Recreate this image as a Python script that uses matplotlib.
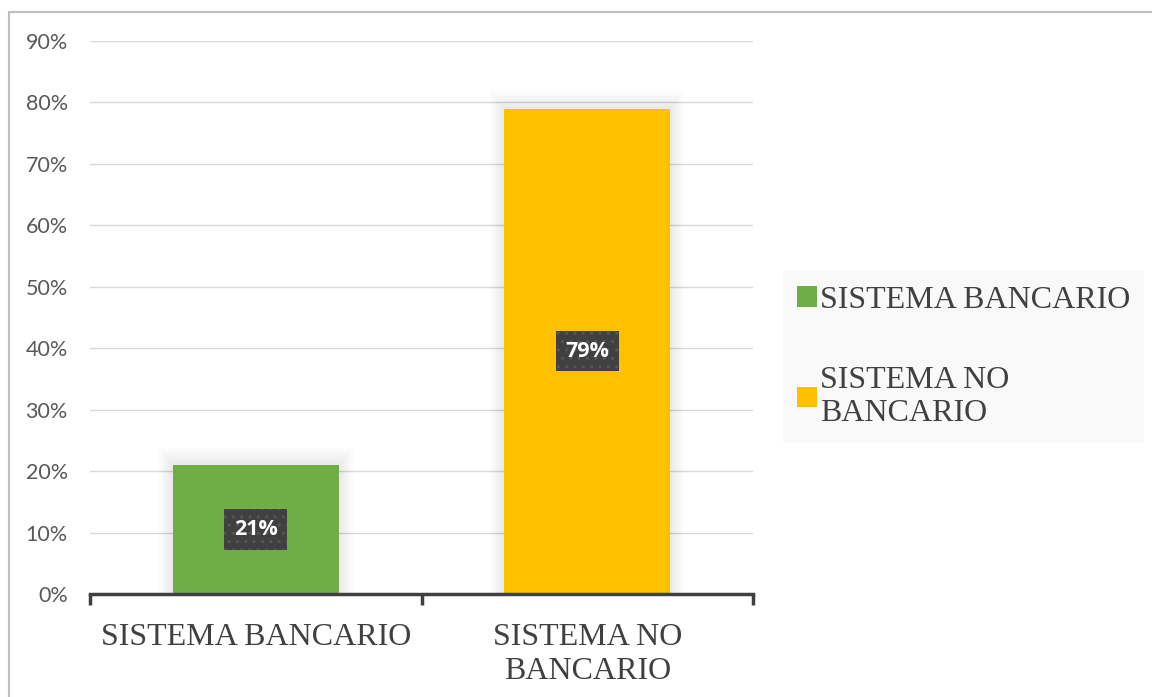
import matplotlib.pyplot as plt
from matplotlib.patches import Patch, Rectangle

# datos
categorias = ['SISTEMA BANCARIO', 'SISTEMA NO\nBANCARIO']
leyenda = ['SISTEMA BANCARIO', 'SISTEMA NO\nBANCARIO']
valores = [0.21, 0.79]
etiquetas = ['21%', '79%']
colores = ['#70ad47', '#ffc000']
ticks_y = [0, 0.1, 0.2, 0.3, 0.4, 0.5, 0.6, 0.7, 0.8, 0.9]

fig = plt.figure(figsize=(11.52, 6.97), dpi=100)
ax = fig.add_axes([90 / 1152, 103 / 697, 663 / 1152, 553 / 697])

x = list(range(len(categorias)))
ancho = 0.5

# sombra suave alrededor de las barras
for i in range(8):
    ax.bar(x, [v + 0.004 * i for v in valores], width=ancho + 0.012 * i,
           color='#000000', alpha=0.012, zorder=1, linewidth=0)

ax.bar(x, valores, width=ancho, color=colores, zorder=2)

# etiquetas de datos
for xi, v, txt in zip(x, valores, etiquetas):
    t = ax.text(xi, v / 2, txt, ha='center', va='center', color='white',
                fontsize=15.5, fontweight='bold', family='Open Sans', zorder=5,
                bbox=dict(boxstyle='square,pad=0.45', facecolor='#404040',
                          edgecolor='#555555', linewidth=0))
    t.get_bbox_patch().set_hatch('..')

ax.set_ylim(0, 0.9)
ax.set_xlim(-0.5, 1.5)
ax.set_yticks(ticks_y)
ax.set_yticklabels([f'{int(round(t * 100))}%' for t in ticks_y],
                   fontsize=15.5, color='#595959', family='Lato')
ax.yaxis.grid(True, color='#d9d9d9', linewidth=1)
ax.set_axisbelow(True)

ax.set_xticks(x)
ax.set_xticklabels(categorias, fontsize=23, color='#404040',
                   family='Liberation Serif', linespacing=1.2)
ax.set_xticks([-0.5, 0.5, 1.5], minor=True)
ax.tick_params(axis='x', which='major', length=0, pad=21)
ax.tick_params(axis='x', which='minor', length=8, width=2.5, color='#404040')
ax.tick_params(axis='y', length=0, pad=16)

for lado in ['top', 'right', 'left']:
    ax.spines[lado].set_visible(False)
ax.spines['bottom'].set_color('#404040')
ax.spines['bottom'].set_linewidth(2.5)

# leyenda
handles = [Patch(facecolor=c, edgecolor='none') for c in colores]
leg = fig.legend(handles, leyenda, loc='center left',
                 bbox_to_anchor=(783 / 1152, 1 - 357 / 697),
                 prop={'family': 'Liberation Serif', 'size': 23},
                 frameon=True, facecolor='#f9f9f9', edgecolor='none',
                 fancybox=False, framealpha=1, handlelength=0.6,
                 handleheight=0.6, handletextpad=0.1, labelspacing=1.6,
                 borderpad=0.45, borderaxespad=0)
for t in leg.get_texts():
    t.set_color('#404040')
    t.set_linespacing(1.2)

# borde del gráfico
fig.add_artist(Rectangle((9 / 1152, -0.1), 1.2, 1 - 12 / 697 + 0.1,
                         transform=fig.transFigure, fill=False,
                         edgecolor='#bfbfbf', linewidth=1.5))

fig.savefig('out.png', dpi=100)
